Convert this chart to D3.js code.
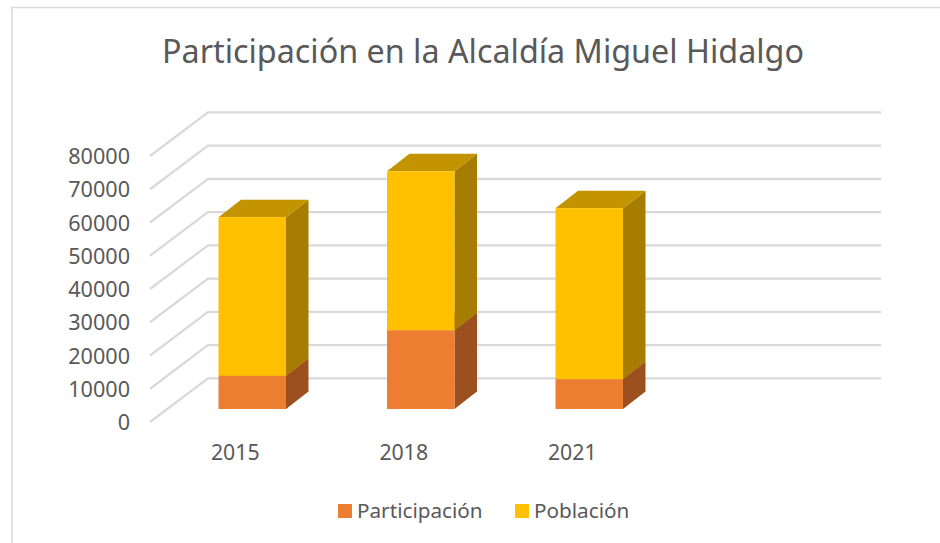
<!DOCTYPE html>
<html><head><meta charset="utf-8">
<style>html,body{margin:0;padding:0;background:#fff}svg{display:block}text{font-family:"Noto Sans",sans-serif;fill:#595959}</style>
<script src="https://cdn.jsdelivr.net/npm/d3@7"></script></head><body>
<svg id="c" width="940" height="543"></svg>
<script>
const categories=["2015","2018","2021"];
const participacion=[10000,23700,9000];
const poblacion=[47700,47800,51400];
const seriesNames=["Participación","Población"];
const yTicks=[0,10000,20000,30000,40000,50000,60000,70000,80000];
const titleText="Participación en la Alcaldía Miguel Hidalgo";

const svg=d3.select("#c");
const W=940,H=543;
svg.append("rect").attr("width",W).attr("height",H).attr("fill","#fff");
svg.append("path").attr("d","M12,543V7.5H940").attr("fill","none").attr("stroke","#d9d9d9").attr("stroke-width",1.5);

const y=d3.scaleLinear().domain([0,80000]).range([422,156]);
const x=d3.scaleBand().domain([...categories,"_"]).range([151,825]).paddingInner(0).paddingOuter(0);
const dx=58,dy=-43.7;
const barDx=22.5,barDy=-17.5,barBase=-13;

// gridlines
const g=svg.append("g");
yTicks.forEach(t=>{
  g.append("path").attr("d",`M${150},${y(t)}L${150+dx},${y(t)+dy}H881`)
   .attr("fill","none").attr("stroke","#d9d9d9").attr("stroke-width",2.2);
});
// axis labels
svg.append("g").selectAll("text").data(yTicks).join("text")
  .attr("x",130).attr("y",d=>y(d)+8).attr("text-anchor","end").attr("font-size",21.6).text(d=>d);

const barW=67.5;
function bar(cat,v0,v1,cols){
  const xl=x(cat)+x.bandwidth()/2-barW/2+17;
  const xr=xl+barW;
  const yb=y(v0)+barBase, yt=y(v1)+barBase;
  svg.append("path").attr("d",`M${xr},${yb}L${xr+barDx},${yb+barDy}V${yt+barDy}L${xr},${yt}Z`).attr("fill",cols[1]);
  svg.append("path").attr("d",`M${xl},${yt}L${xl+barDx},${yt+barDy}H${xr+barDx}L${xr},${yt}Z`).attr("fill",cols[2]);
  svg.append("rect").attr("x",xl).attr("y",yt).attr("width",barW).attr("height",yb-yt).attr("fill",cols[0]);
}
const orange=["#ed7d31","#9c5020","#c0641f"], yellow=["#ffc000","#a67d00","#c49300"];
categories.forEach((c,i)=>{
  bar(c,0,participacion[i],orange);
  bar(c,participacion[i],participacion[i]+poblacion[i],yellow);
});
// category labels
svg.append("g").selectAll("text").data(categories).join("text")
  .attr("x",d=>x(d)+x.bandwidth()/2).attr("y",460).attr("text-anchor","middle").attr("font-size",21.3).text(d=>d);
// title
svg.append("text").attr("x",483).attr("y",63).attr("text-anchor","middle").attr("font-size",32.3).text(titleText);
// legend
const legX=[338,515],legColors=["#ed7d31","#ffc000"];
seriesNames.forEach((n,i)=>{
  svg.append("rect").attr("x",legX[i]).attr("y",504).attr("width",14).attr("height",14).attr("fill",legColors[i]);
  svg.append("text").attr("x",legX[i]+19).attr("y",518).attr("font-size",20.7).text(n);
});
</script></body></html>
